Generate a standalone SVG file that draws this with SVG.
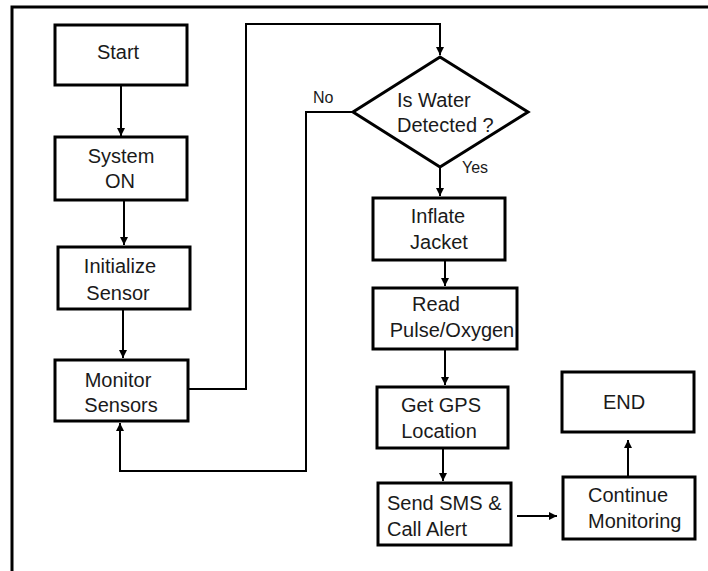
<svg xmlns="http://www.w3.org/2000/svg" width="708" height="571" viewBox="0 0 708 571">
<style>
.box{fill:#fff;stroke:#000;stroke-width:3}
.ln{fill:none;stroke:#000;stroke-width:2}
text{font-family:"Liberation Sans",Arial,sans-serif;font-size:20px;fill:#1a1a1a}
.c{text-anchor:middle}
.s{font-size:16px}
</style>
<defs>
<marker id="ah" viewBox="0 0 10 10" refX="10" refY="5" markerWidth="8" markerHeight="8" markerUnits="userSpaceOnUse" orient="auto">
<path d="M0,0 L10,5 L0,10 z" fill="#000"/>
</marker>
</defs>
<rect x="12" y="7" width="710" height="580" fill="#fff" stroke="#000" stroke-width="3"/>
<g id="connectors">
<line class="ln" x1="121" y1="85" x2="121" y2="136" marker-end="url(#ah)"/>
<line class="ln" x1="124" y1="200" x2="124" y2="245" marker-end="url(#ah)"/>
<line class="ln" x1="123" y1="309" x2="123" y2="358" marker-end="url(#ah)"/>
<polyline class="ln" points="188,389 246,389 246,24 440,24 440,55" marker-end="url(#ah)"/>
<polyline class="ln" points="353,112 306,112 306,471 120,471 120,423" marker-end="url(#ah)"/>
<line class="ln" x1="440" y1="167" x2="440" y2="196" marker-end="url(#ah)"/>
<line class="ln" x1="445" y1="260" x2="445" y2="286" marker-end="url(#ah)"/>
<line class="ln" x1="445" y1="349" x2="445" y2="385" marker-end="url(#ah)"/>
<line class="ln" x1="443" y1="448" x2="443" y2="481" marker-end="url(#ah)"/>
<line class="ln" x1="517" y1="516" x2="557" y2="516" marker-end="url(#ah)"/>
<line class="ln" x1="628" y1="477" x2="628" y2="440" marker-end="url(#ah)"/>
<text class="s" x="313" y="103">No</text>
<text class="s" x="462" y="173">Yes</text>
</g>
<g id="start">
<rect class="box" x="55" y="25" width="132" height="60"/>
<text class="c" x="118" y="59">Start</text>
</g>
<g id="system-on">
<rect class="box" x="55" y="137" width="132" height="63"/>
<text class="c" x="121" y="163">System</text>
<text class="c" x="120" y="188">ON</text>
</g>
<g id="initialize">
<rect class="box" x="58" y="247" width="132" height="62"/>
<text class="c" x="120" y="273">Initialize</text>
<text class="c" x="118" y="300">Sensor</text>
</g>
<g id="monitor">
<rect class="box" x="55" y="360" width="133" height="61"/>
<text class="c" x="118" y="387">Monitor</text>
<text class="c" x="121" y="412">Sensors</text>
</g>
<g id="decision">
<polygon class="box" points="440,57 528,112 440,167 353,112"/>
<text x="397" y="107">Is Water</text>
<text x="397" y="132">Detected ?</text>
</g>
<g id="inflate">
<rect class="box" x="373" y="198" width="132" height="62"/>
<text class="c" x="438" y="223">Inflate</text>
<text class="c" x="439" y="249">Jacket</text>
</g>
<g id="read">
<rect class="box" x="373" y="288" width="144" height="61"/>
<text class="c" x="436" y="311">Read</text>
<text class="c" x="452" y="337">Pulse/Oxygen</text>
</g>
<g id="gps">
<rect class="box" x="377" y="387" width="131" height="61"/>
<text class="c" x="441" y="412">Get GPS</text>
<text class="c" x="439" y="438">Location</text>
</g>
<g id="sms">
<rect class="box" x="378" y="483" width="133" height="62"/>
<text x="387" y="510">Send SMS &amp;</text>
<text x="387" y="536">Call Alert</text>
</g>
<g id="continue">
<rect class="box" x="563" y="477" width="132" height="62"/>
<text x="588" y="502">Continue</text>
<text x="588" y="528">Monitoring</text>
</g>
<g id="end">
<rect class="box" x="562" y="372" width="132" height="60"/>
<text class="c" x="624" y="409">END</text>
</g>
</svg>
